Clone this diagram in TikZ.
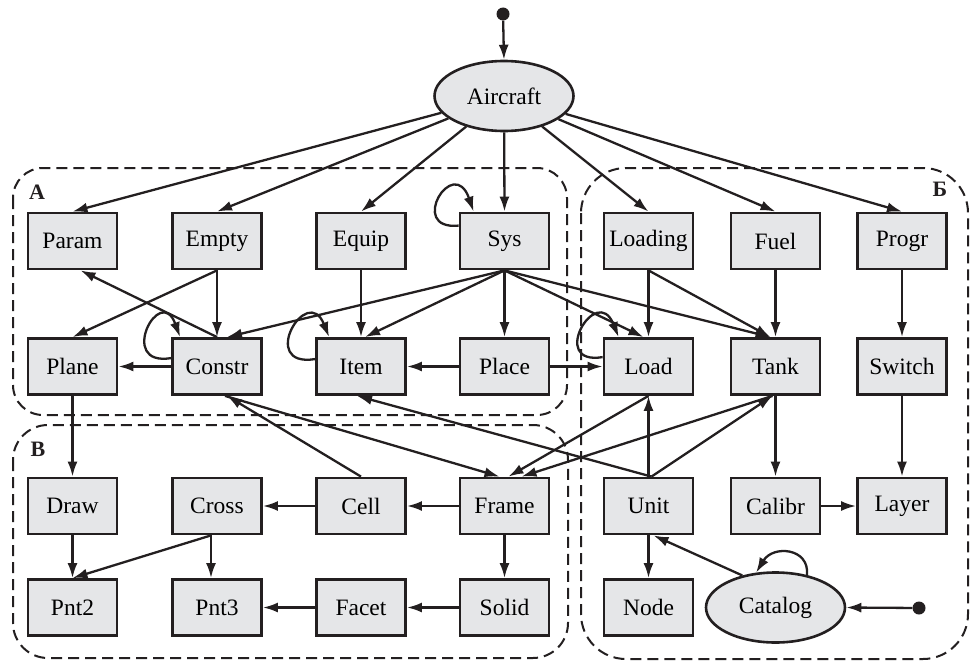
\documentclass[tikz,border=0pt]{standalone}
\usepackage{fontspec}
\setmainfont{Liberation Serif}
\usetikzlibrary{arrows.meta,shapes.geometric,calc}
\definecolor{boxfill}{RGB}{229,230,232}
\definecolor{ink}{RGB}{35,31,32}
\begin{document}
\begin{tikzpicture}[x=1pt,y=-1pt,
  box/.style={draw=ink, line width=2.8pt, fill=boxfill, minimum width=89pt, minimum height=56pt, inner sep=0pt, font=\fontsize{23.5}{26}\selectfont},
  oval/.style={ellipse, draw=ink, line width=2.6pt, fill=boxfill, minimum width=139pt, minimum height=70pt, inner sep=0pt, font=\fontsize{23.5}{26}\selectfont},
  edge/.style={draw=ink, line width=2.3pt, -{Latex[length=15pt,width=10pt]}},
  grp/.style={draw=ink, line width=2pt, dash pattern=on 11pt off 6pt},
  glabel/.style={font=\bfseries\fontsize{22}{24}\selectfont, inner sep=0pt, text=ink},
  dot/.style={circle, fill=ink, inner sep=0pt, minimum size=13pt}]
\useasboundingbox (0,0) rectangle (971,661);

% groups
\draw[grp, rounded corners=30pt] (13,168) rectangle (567,415);
\draw[grp, rounded corners=35pt] (13,425) rectangle (568,658);
\draw[grp, rounded corners=45pt] (581,168) rectangle (968,659);
\node[glabel] (lblA) at (37,192) {А};
\node[glabel] (lblV) at (38,449) {В};
\node[glabel] (lblB) at (940,189) {Б};

% nodes
\node[oval] (aircraft) at (504,96) {Aircraft};
\node[dot] (start1) at (503,14) {};

\node[box] (param) at (72.5,241) {Param};
\node[box] (empty) at (217,241) {Empty};
\node[box] (equip) at (361,241) {Equip};
\node[box] (sys) at (504.5,241) {Sys};
\node[box] (loading) at (648.5,241) {Loading};
\node[box] (fuel) at (775.5,241) {Fuel};
\node[box] (progr) at (902,241) {Progr};

\node[box] (plane) at (72.5,366.5) {Plane};
\node[box] (constr) at (217,366.5) {Constr};
\node[box] (item) at (361,366.5) {Item};
\node[box] (place) at (504.5,366.5) {Place};
\node[box] (load) at (648.5,366.5) {Load};
\node[box] (tank) at (775.5,366.5) {Tank};
\node[box] (switch) at (902,366.5) {Switch};

\node[box] (draw) at (72.5,506) {Draw};
\node[box] (cross) at (217,506) {Cross};
\node[box] (cell) at (361,506) {Cell};
\node[box] (frame) at (504.5,506) {Frame};
\node[box] (unit) at (648.5,506) {Unit};
\node[box] (calibr) at (775.5,506) {Calibr};
\node[box] (layer) at (902,506) {Layer};

\node[box] (pnt2) at (72.5,607.5) {Pnt2};
\node[box] (pnt3) at (217,607.5) {Pnt3};
\node[box] (facet) at (361,607.5) {Facet};
\node[box] (solid) at (504.5,607.5) {Solid};
\node[box] (nodebox) at (648.5,607.5) {Node};
\node[oval] (catalog) at (775.5,607.5) {Catalog};
\node[dot] (start2) at (919,608) {};

% edges from Aircraft
\draw[edge] (start1) -- (aircraft.north);
\foreach \t in {param,empty,equip,sys,loading,fuel,progr}
  \draw[edge] (aircraft) -- (\t.north);

% group A
\draw[edge] (empty.south) -- (plane.north);
\draw[edge] (empty.south) -- (constr.north);
\draw[edge] (constr.north) -- ([xshift=8pt]param.south);
\draw[edge] (constr.west) -- (plane.east);
\draw[edge] (sys.south) -- ([xshift=10pt]constr.north);
\draw[edge] (sys.south) -- ([xshift=4pt]item.north);
\draw[edge] (equip.south) -- (item.north);
\draw[edge] (sys.south) -- (place.north);
\draw[edge] (sys.south) -- ([xshift=-5pt]load.north);
\draw[edge] (sys.south) -- ([xshift=-5pt]tank.north);
\draw[edge] (place.west) -- (item.east);
\draw[edge] (place.east) -- (load.west);

% self loops
\draw[edge] ($(constr.north west)+(0,21)$) .. controls +(-55,9) and +(-20,-55) .. ($(constr.north west)+(9,0)$);
\draw[edge] ($(item.north west)+(0,22)$) .. controls +(-58,9) and +(-22,-55) .. ($(item.north west)+(14,0)$);
\draw[edge] ($(sys.north west)+(0,14)$) .. controls +(-52,5) and +(-20,-58) .. ($(sys.north west)+(15,0)$);
\draw[edge] ($(load.north west)+(0,20)$) .. controls +(-55,9) and +(-22,-55) .. ($(load.north west)+(16,0)$);
\draw[edge] (catalog.46) .. controls +(3,-27) and +(17,-28) .. (catalog.119);

% group Б
\draw[edge] (loading.south) -- (load.north);
\draw[edge] (loading.south) -- ([xshift=-5pt]tank.north);
\draw[edge] (fuel.south) -- (tank.north);
\draw[edge] (progr.south) -- (switch.north);
\draw[edge] (tank.south) -- (calibr.north);
\draw[edge] (switch.south) -- (layer.north);
\draw[edge] (calibr.east) -- (layer.west);
\draw[edge] ([xshift=3pt]unit.north) -- ([xshift=-4pt]item.south);
\draw[edge] (unit.north) -- (load.south);
\draw[edge] ([xshift=3pt]unit.north) -- ([xshift=-3pt]tank.south);
\draw[edge] (unit.south) -- (nodebox.north);
\draw[edge] (catalog.136) -- ([xshift=5pt]unit.south);
\draw[edge] (start2) -- (catalog.east);

% between groups
\draw[edge] (plane.south) -- (draw.north);
\draw[edge] (cell.north) -- ([xshift=10pt]constr.south);
\draw[edge] ([xshift=8pt]constr.south) -- ([xshift=-5pt]frame.north);
\draw[edge] (load.south) -- ([xshift=4pt]frame.north);
\draw[edge] ([xshift=-3pt]tank.south) -- ([xshift=17pt]frame.north);

% group В
\draw[edge] (frame.west) -- (cell.east);
\draw[edge] (cell.west) -- (cross.east);
\draw[edge] (draw.south) -- (pnt2.north);
\draw[edge] ([xshift=-6pt]cross.south) -- (pnt2.north);
\draw[edge] ([xshift=-6pt]cross.south) -- ([xshift=-6pt]pnt3.north);
\draw[edge] (frame.south) -- (solid.north);
\draw[edge] (solid.west) -- (facet.east);
\draw[edge] (facet.west) -- (pnt3.east);
\end{tikzpicture}
\end{document}
